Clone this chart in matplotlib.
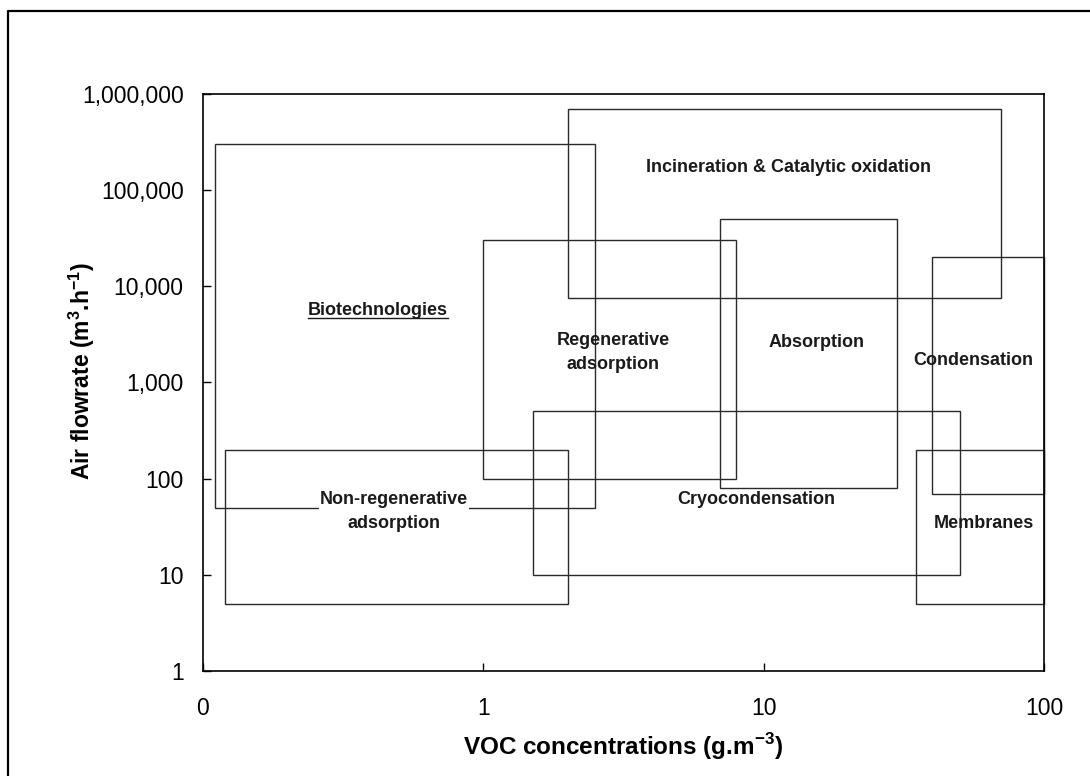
import matplotlib
matplotlib.use('Agg')
import matplotlib.pyplot as plt
from matplotlib.patches import Rectangle
from matplotlib.lines import Line2D
from matplotlib.transforms import IdentityTransform

plt.rcParams['font.family'] = ['Liberation Sans', 'DejaVu Sans']
plt.rcParams['mathtext.fontset'] = 'custom'
plt.rcParams['mathtext.rm'] = 'Liberation Sans'
plt.rcParams['mathtext.bf'] = 'Liberation Sans:bold'

# operating window of each VOC treatment technology
techs = ['Biotechnologies', 'Non-regenerative\nadsorption', 'Regenerative\nadsorption',
         'Incineration & Catalytic oxidation', 'Absorption', 'Cryocondensation',
         'Condensation', 'Membranes']
conc_min = [0.11, 0.12, 1.0, 2.0, 7.0, 1.5, 40, 35]      # g.m-3
conc_max = [2.5, 2.0, 8.0, 70, 30, 50, 100, 100]
flow_min = [50, 5, 100, 7500, 80, 10, 70, 5]            # m3.h-1
flow_max = [3e5, 200, 3e4, 7e5, 5e4, 500, 2e4, 200]

# where each name is written
label_x = [0.42, 0.48, 2.9, 12.3, 15.5, 9.4, 56, 61]
label_y = [5600, 46, 2070, 1.7e5, 2630, 61, 1710, 34.5]

xticks = [0.1, 1, 10, 100]
xtick_labels = ['0', '1', '10', '100']
yticks = [1, 10, 100, 1e3, 1e4, 1e5, 1e6]
ytick_labels = ['1', '10', '100', '1,000', '10,000', '100,000', '1,000,000']

fig = plt.figure(figsize=(10.9, 7.76), dpi=100)
ax = fig.add_axes([0.1862, 0.1353, 0.7716, 0.7436])
ax.set_xscale('log')
ax.set_yscale('log')
ax.set_xlim(0.1, 100)
ax.set_ylim(1, 1e6)

for x0, x1, y0, y1 in zip(conc_min, conc_max, flow_min, flow_max):
    ax.add_patch(Rectangle((x0, y0), x1 - x0, y1 - y0, fill=False,
                           ec='#2a2a2a', lw=1.0, clip_on=False))

texts = []
for name, lx, ly in zip(techs, label_x, label_y):
    t = ax.text(lx, ly, name, ha='center', va='center', fontsize=13,
                fontweight='bold', color='#1a1a1a', linespacing=1.55)
    texts.append(t)
# the bottom edge of the biotech box is hidden behind this label
texts[1].set_bbox(dict(facecolor='white', edgecolor='none', pad=0.5))

ax.set_xticks(xticks)
ax.set_xticklabels(xtick_labels)
ax.set_yticks(yticks)
ax.set_yticklabels(ytick_labels)
ax.minorticks_off()
ax.tick_params(direction='in', length=6, width=1.0, labelsize=16.5)
ax.tick_params(axis='x', pad=19)
ax.tick_params(axis='y', pad=14)
for s in ax.spines.values():
    s.set_linewidth(1.2)

ax.set_xlabel(r'VOC concentrations (g.m$^{\mathbf{-3}}$)', fontsize=17.5,
              fontweight='bold', labelpad=8)
ax.set_ylabel(r'Air flowrate (m$^{\mathbf{3}}$.h$^{\mathbf{-1}}$)', fontsize=16.5,
              fontweight='bold')
ax.yaxis.set_label_coords(-0.126, 0.52)

# outer frame of the original figure (left and top edges only)
fig.add_artist(Line2D([7.5 / 1090, 7.5 / 1090, 1.0], [0, 1 - 10.5 / 776, 1 - 10.5 / 776],
                      transform=fig.transFigure, color='black', lw=1.6))

# underline "Biotechnologies"
fig.canvas.draw()
bb = texts[0].get_window_extent()
fig.add_artist(Line2D([bb.x0, bb.x1], [bb.y0 + 1, bb.y0 + 1],
                      transform=IdentityTransform(), color='#1a1a1a', lw=1.0))

fig.savefig('out.png', dpi=100)
